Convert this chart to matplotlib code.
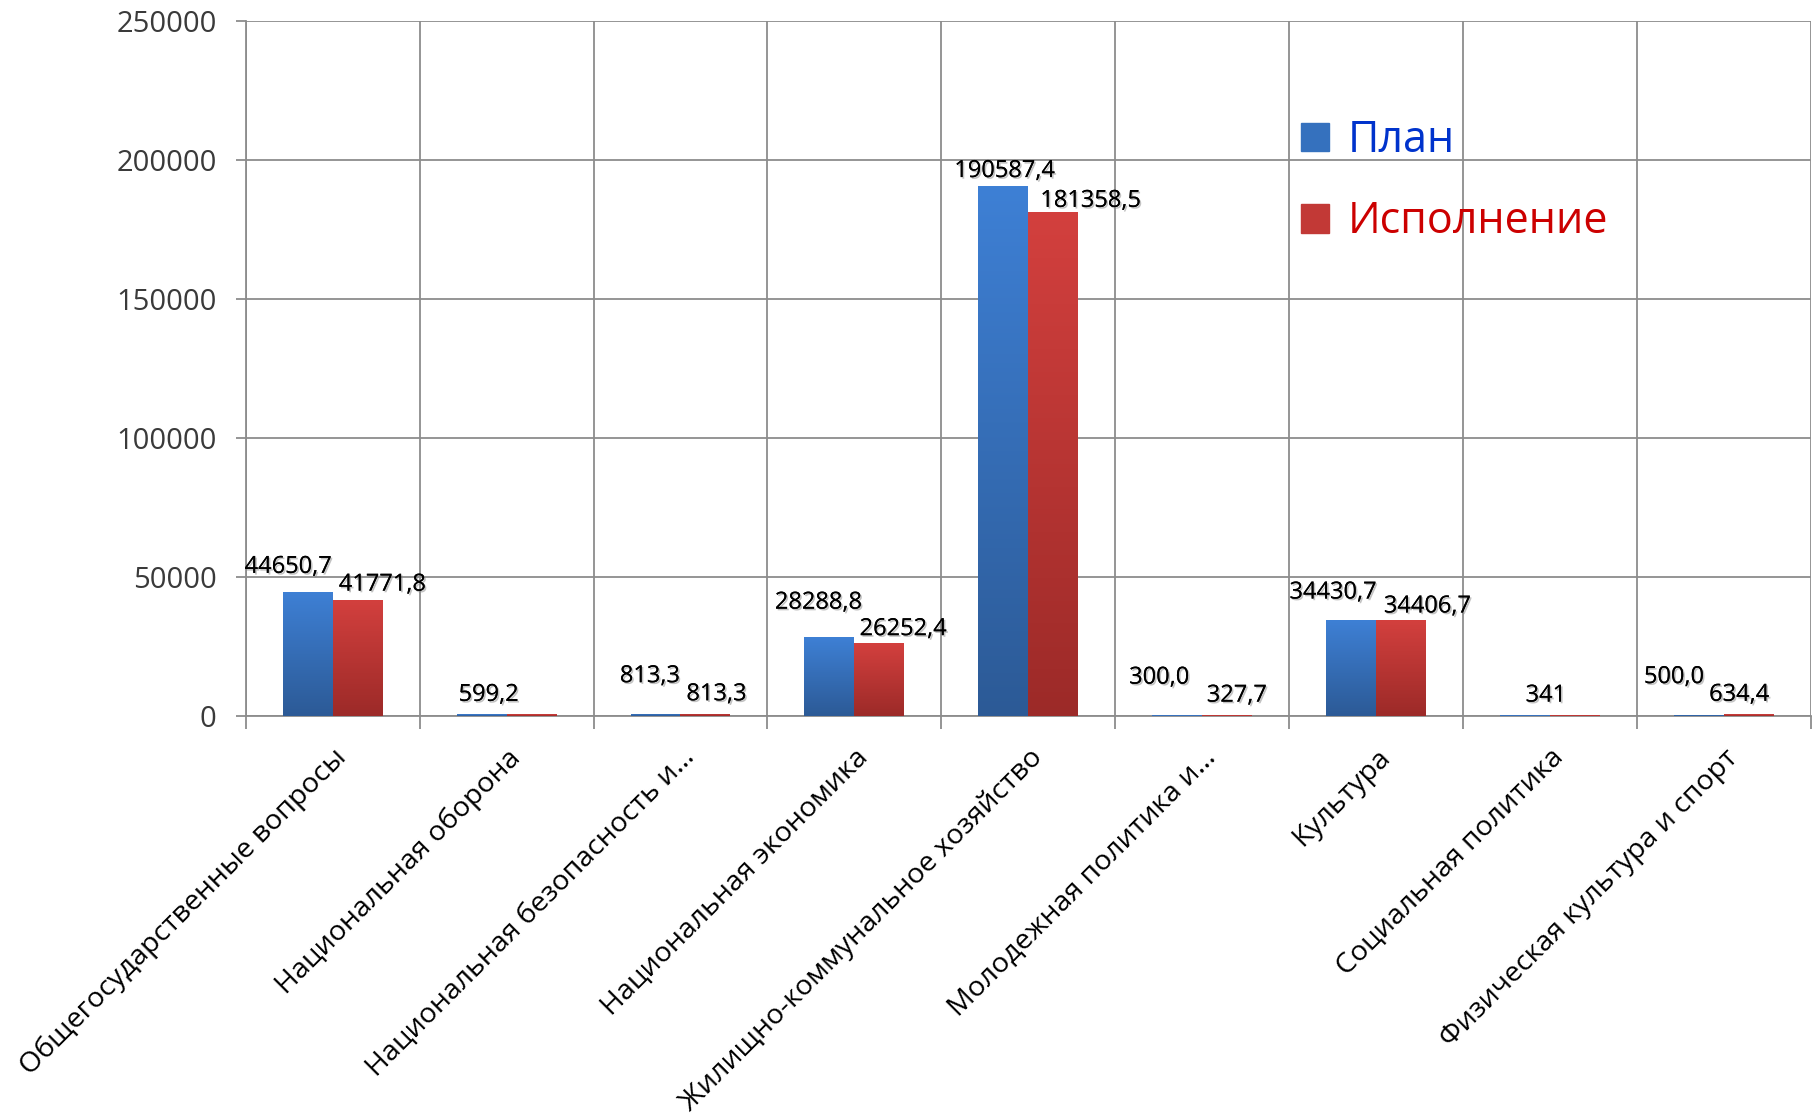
import numpy as np
import matplotlib.pyplot as plt
import matplotlib.patheffects as pe
from matplotlib.colors import LinearSegmentedColormap
from matplotlib.patches import Patch

# data
categories = ['Общегосударственные вопросы', 'Национальная оборона',
              'Национальная безопасность и…', 'Национальная экономика',
              'Жилищно-коммунальное хозяйство', 'Молодежная политика и…',
              'Культура', 'Социальная политика', 'Физическая культура и спорт']
plan = [44650.7, 599.2, 813.3, 28288.8, 190587.4, 300.0, 34430.7, 341.0, 500.0]
execution = [41771.8, 599.2, 813.3, 26252.4, 181358.5, 327.7, 34406.7, 341.0, 634.4]
plan_labels = ['44650,7', '599,2', '813,3', '28288,8', '190587,4', '300,0', '34430,7', '341', '500,0']
exec_labels = ['41771,8', '', '813,3', '26252,4', '181358,5', '327,7', '34406,7', '', '634,4']
yticks = [0, 50000, 100000, 150000, 200000, 250000]

# label offsets (points) relative to the top centre of each bar
plan_off = [(-14, 18), (5, 14), (-4, 27), (-8, 25), (1, 11), (-13, 27), (-13, 20), (15, 14), (-18, 27)]
exec_off = [(18, 11), (0, 0), (8, 14), (17, 10), (27, 8), (7, 14), (19, 10), (0, 0), (-7, 14)]

plt.rcParams['font.family'] = ['Open Sans', 'DejaVu Sans']

fig = plt.figure(figsize=(18.2, 11.17), dpi=100)
ax = fig.add_axes([0.135, 0.359, 0.860, 0.622])

x = np.arange(len(categories))
w = 0.287
blue_cmap = LinearSegmentedColormap.from_list('b', ['#2c5a96', '#3e80d5'])
red_cmap = LinearSegmentedColormap.from_list('r', ['#9c2a28', '#d3403e'])

bars_plan = ax.bar(x - w / 2, plan, w, color='#3571be', zorder=3)
bars_exec = ax.bar(x + w / 2, execution, w, color='#c23936', zorder=3)

# vertical gradient inside each bar
grad = np.linspace(0, 1, 256).reshape(-1, 1)
for bars, cmap in [(bars_plan, blue_cmap), (bars_exec, red_cmap)]:
    for b in bars:
        x0, h = b.get_x(), b.get_height()
        im = ax.imshow(grad, cmap=cmap, origin='lower', aspect='auto',
                       extent=(x0, x0 + b.get_width(), 0, h), zorder=3)
        im.set_clip_path(b)

ax.set_xlim(-0.5, len(categories) - 0.5)
ax.set_ylim(0, 250000)

shadow = [pe.withSimplePatchShadow(offset=(1.2, -1.2), shadow_rgbFace='#888888', alpha=0.5), pe.Normal()]
for bars, labels, offs in [(bars_plan, plan_labels, plan_off), (bars_exec, exec_labels, exec_off)]:
    for b, lab, (dx, dy) in zip(bars, labels, offs):
        if not lab:
            continue
        ax.annotate(lab, (b.get_x() + b.get_width() / 2, b.get_height()),
                    xytext=(dx, dy), textcoords='offset points',
                    ha='center', va='center', fontsize=17, color='black',
                    path_effects=shadow, zorder=5)

# grid and ticks
ax.set_yticks(yticks)
ax.set_yticklabels([str(v) for v in yticks], fontsize=21, color='#3a3a3a')
ax.set_xticks(x)
ax.set_xticklabels(categories, rotation=45, ha='right', rotation_mode='anchor', fontsize=20.5)
ax.set_xticks(np.arange(-0.5, len(categories)), minor=True)
ax.tick_params(axis='x', which='major', length=0, pad=20)
ax.tick_params(axis='x', which='minor', length=9, width=1.3, color='#8c8c8c')
ax.tick_params(axis='y', length=7, width=1.3, color='#8c8c8c', pad=14)
ax.grid(axis='y', color='#8c8c8c', linewidth=1.3, zorder=0)
ax.grid(axis='x', which='minor', color='#8c8c8c', linewidth=1.3, zorder=0)
for s in ['top', 'right']:
    ax.spines[s].set_visible(False)
for s in ['left', 'bottom']:
    ax.spines[s].set_color('#8c8c8c')
    ax.spines[s].set_linewidth(1.3)

handles = [Patch(color='#3571be'), Patch(color='#c23936')]
leg = ax.legend(handles, ['План', 'Исполнение'], loc='upper left',
                bbox_to_anchor=(1262 / 1820, 1 - 80 / 1117), bbox_transform=fig.transFigure,
                frameon=False, fontsize=31, handlelength=0.65, handleheight=0.65,
                handletextpad=0.45, labelspacing=0.85)
for t, c in zip(leg.get_texts(), ['#0033cc', '#cc0000']):
    t.set_color(c)

fig.savefig('out.png', dpi=100)
